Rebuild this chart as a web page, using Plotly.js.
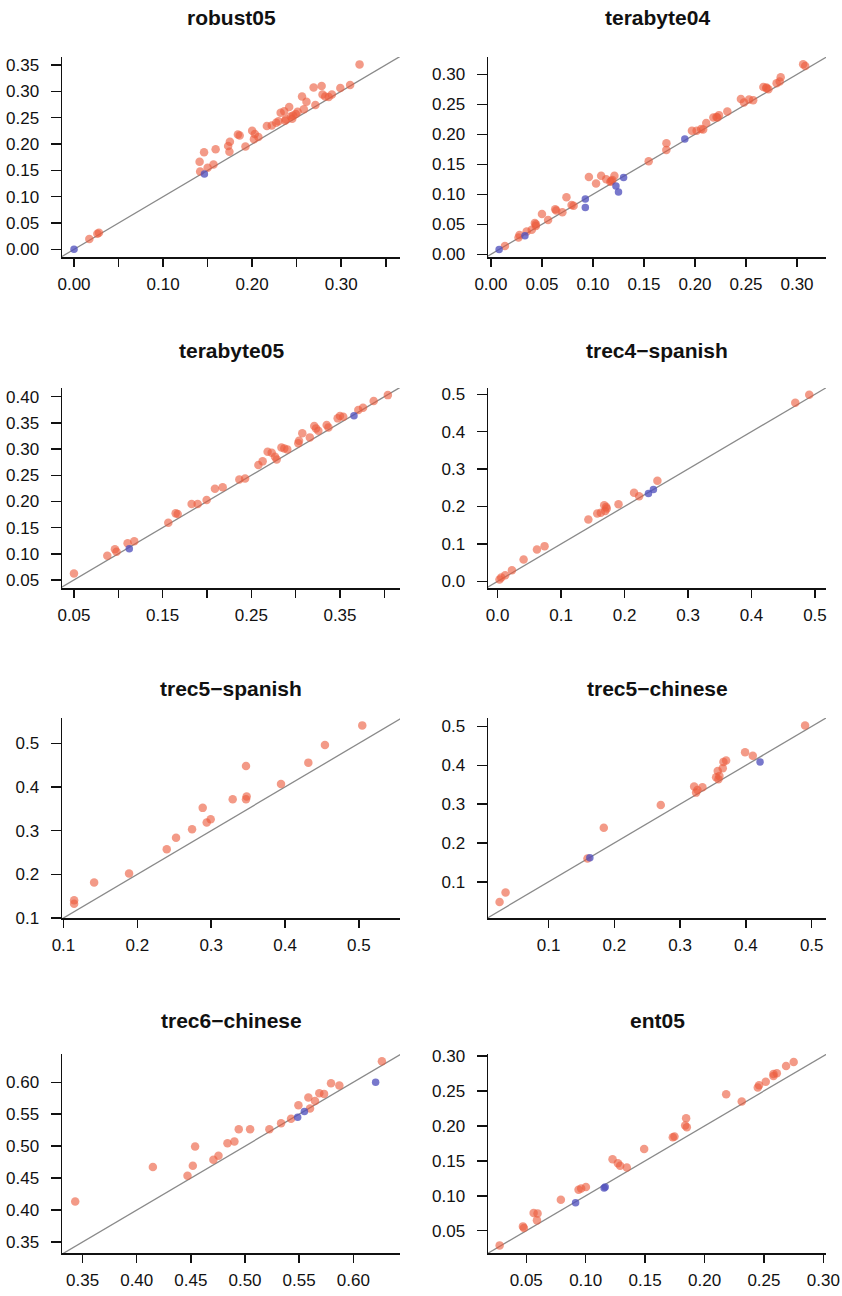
<!DOCTYPE html>
<html>
<head>
<meta charset="utf-8">
<script src="https://cdn.plot.ly/plotly-3.0.1.min.js"></script>
<style>html,body{margin:0;padding:0;background:#fff;}#chart{width:842px;height:1296px;}</style>
</head>
<body>
<div id="chart"></div>
<script>
// ---------- DATA ----------
const titles = ["robust05", "terabyte04", "terabyte05", "trec4\u2212spanish", "trec5\u2212spanish", "trec5\u2212chinese", "trec6\u2212chinese", "ent05"];

const robust05_red_x = [0.0172,0.0262,0.028,0.141,0.146,0.1416,0.1566,0.159,0.173,0.1745,0.175,0.184,0.186,0.1925,0.200,0.202,0.203,0.207,0.2165,0.222,0.227,0.2296,0.232,0.236,0.2416,0.2434,0.246,0.249,0.251,0.256,0.258,0.261,0.269,0.271,0.278,0.279,0.282,0.286,0.2895,0.299,0.310,0.237,0.3206,0.150,0.245,0.238];
const robust05_red_y = [0.0196,0.0297,0.0316,0.166,0.184,0.1475,0.161,0.190,0.196,0.185,0.204,0.218,0.216,0.195,0.225,0.209,0.219,0.213,0.234,0.235,0.240,0.243,0.259,0.262,0.270,0.252,0.254,0.257,0.261,0.290,0.266,0.280,0.307,0.274,0.310,0.294,0.290,0.289,0.294,0.306,0.312,0.244,0.351,0.155,0.248,0.247];
const robust05_blue_x = [0.0, 0.1464];
const robust05_blue_y = [0.0, 0.143];

const terabyte04_red_x = [0.0137,0.027,0.028,0.035,0.040,0.043,0.044,0.050,0.056,0.063,0.064,0.070,0.074,0.079,0.081,0.096,0.103,0.108,0.113,0.117,0.119,0.121,0.1546,0.172,0.1719,0.197,0.2016,0.206,0.208,0.211,0.218,0.221,0.2235,0.2317,0.245,0.248,0.253,0.267,0.270,0.272,0.280,0.284,0.283,0.306,0.308,0.257,0.118,0.044,0.270,0.222];
const terabyte04_red_y = [0.0139,0.028,0.032,0.038,0.041,0.052,0.047,0.067,0.057,0.075,0.073,0.070,0.095,0.082,0.081,0.129,0.118,0.131,0.125,0.121,0.124,0.131,0.155,0.185,0.174,0.206,0.206,0.209,0.208,0.219,0.228,0.229,0.232,0.238,0.259,0.253,0.258,0.279,0.278,0.275,0.285,0.295,0.288,0.317,0.314,0.257,0.122,0.050,0.277,0.228];
const terabyte04_blue_x = [0.008,0.0333,0.0925,0.0925,0.1225,0.125,0.130,0.190];
const terabyte04_blue_y = [0.008,0.031,0.092,0.078,0.114,0.104,0.128,0.192];

const terabyte05_red_x = [0.05,0.0876,0.0962,0.098,0.1105,0.118,0.1564,0.1647,0.167,0.1827,0.1895,0.1996,0.209,0.2177,0.2365,0.243,0.258,0.2628,0.2684,0.273,0.2767,0.2786,0.284,0.2872,0.2906,0.303,0.3038,0.3075,0.316,0.321,0.323,0.3256,0.335,0.337,0.3474,0.35,0.3537,0.376,0.388,0.404,0.3707];
const terabyte05_red_y = [0.0626,0.0964,0.1085,0.104,0.120,0.124,0.1594,0.1772,0.176,0.195,0.195,0.2027,0.2243,0.2269,0.2421,0.244,0.2695,0.2765,0.295,0.293,0.2854,0.2803,0.3032,0.3013,0.2994,0.311,0.316,0.330,0.3223,0.344,0.3395,0.335,0.346,0.3414,0.3586,0.363,0.3618,0.379,0.3917,0.403,0.3745];
const terabyte05_blue_x = [0.1124,0.3658];
const terabyte05_blue_y = [0.1097,0.3637];

const trec4sp_red_x = [0.003,0.0058,0.012,0.0226,0.041,0.062,0.074,0.143,0.157,0.1626,0.168,0.171,0.172,0.1695,0.1905,0.215,0.223,0.2518,0.469,0.491];
const trec4sp_red_y = [0.0045,0.0098,0.016,0.0295,0.058,0.085,0.094,0.165,0.181,0.183,0.2036,0.199,0.1946,0.188,0.206,0.2366,0.2277,0.2687,0.4777,0.4991];
const trec4sp_blue_x = [0.2377,0.2455];
const trec4sp_blue_y = [0.2348,0.2455];

const trec5sp_red_x = [0.1144,0.1144,0.1415,0.1888,0.2398,0.2524,0.2741,0.2885,0.2939,0.2993,0.3291,0.3471,0.3471,0.348,0.3945,0.4315,0.454,0.5045];
const trec5sp_red_y = [0.1404,0.1328,0.1815,0.2021,0.2577,0.2836,0.3034,0.3522,0.3187,0.3263,0.372,0.4482,0.372,0.378,0.407,0.4558,0.4962,0.5411];
const trec5sp_blue_x = [];
const trec5sp_blue_y = [];

const trec5zh_red_x = [0.0256,0.0347,0.1592,0.184,0.2706,0.3213,0.3243,0.3263,0.3339,0.3547,0.3572,0.3582,0.3648,0.3658,0.3699,0.3987,0.4104,0.4899,0.3597];
const trec5zh_red_y = [0.0484,0.0725,0.1602,0.2394,0.2978,0.3452,0.3297,0.3366,0.3434,0.3692,0.3856,0.3641,0.3925,0.4088,0.4123,0.4338,0.4243,0.5026,0.3727];
const trec5zh_blue_x = [0.4215,0.1628];
const trec5zh_blue_y = [0.4088,0.1619];

const trec6zh_red_x = [0.3432,0.4149,0.4469,0.4518,0.4539,0.4708,0.4755,0.4838,0.4902,0.4942,0.5047,0.5225,0.5333,0.5425,0.5493,0.5585,0.56,0.5646,0.5686,0.573,0.5794,0.5871,0.6264];
const trec6zh_red_y = [0.4135,0.4672,0.4536,0.4693,0.4995,0.4786,0.4849,0.5047,0.5073,0.5266,0.5266,0.5266,0.5359,0.5427,0.5641,0.576,0.5589,0.5708,0.5828,0.5818,0.5984,0.5948,0.6328];
const trec6zh_blue_x = [0.6206,0.5486,0.5548];
const trec6zh_blue_y = [0.600,0.5453,0.5542];

const ent05_red_x = [0.0276,0.0472,0.048,0.0562,0.0595,0.059,0.0791,0.094,0.0962,0.1002,0.1226,0.1271,0.129,0.1346,0.1492,0.1733,0.1747,0.1845,0.1837,0.1851,0.2182,0.2313,0.2448,0.2459,0.2515,0.258,0.2608,0.258,0.2686,0.275];
const ent05_red_y = [0.029,0.0562,0.0538,0.0752,0.0748,0.0648,0.0943,0.1086,0.1105,0.1124,0.1524,0.1467,0.1429,0.1405,0.1671,0.1838,0.1848,0.211,0.2005,0.1981,0.2452,0.2348,0.2548,0.2581,0.2633,0.2714,0.2752,0.2743,0.2857,0.2914];
const ent05_blue_x = [0.0915,0.1164,0.1155];
const ent05_blue_y = [0.09,0.1124,0.111];

// tick values and labels
const ticks_p1_x = [0,0.05,0.10,0.15,0.20,0.25,0.30,0.35];
const labels_p1_x = ["0.00","","0.10","","0.20","","0.30",""];
const ticks_p1_y = [0,0.05,0.10,0.15,0.20,0.25,0.30,0.35];
const labels_p1_y = ["0.00","0.05","0.10","0.15","0.20","0.25","0.30","0.35"];
const ticks_p2_x = [0,0.05,0.10,0.15,0.20,0.25,0.30];
const labels_p2_x = ["0.00","0.05","0.10","0.15","0.20","0.25","0.30"];
const ticks_p2_y = [0,0.05,0.10,0.15,0.20,0.25,0.30];
const labels_p2_y = ["0.00","0.05","0.10","0.15","0.20","0.25","0.30"];
const ticks_p3_x = [0.05,0.10,0.15,0.20,0.25,0.30,0.35,0.40];
const labels_p3_x = ["0.05","","0.15","","0.25","","0.35",""];
const ticks_p3_y = [0.05,0.10,0.15,0.20,0.25,0.30,0.35,0.40];
const labels_p3_y = ["0.05","0.10","0.15","0.20","0.25","0.30","0.35","0.40"];
const ticks_p4_x = [0,0.1,0.2,0.3,0.4,0.5];
const labels_p4_x = ["0.0","0.1","0.2","0.3","0.4","0.5"];
const ticks_p4_y = [0,0.1,0.2,0.3,0.4,0.5];
const labels_p4_y = ["0.0","0.1","0.2","0.3","0.4","0.5"];
const ticks_p5_x = [0.1,0.2,0.3,0.4,0.5];
const labels_p5_x = ["0.1","0.2","0.3","0.4","0.5"];
const ticks_p5_y = [0.1,0.2,0.3,0.4,0.5];
const labels_p5_y = ["0.1","0.2","0.3","0.4","0.5"];
const ticks_p6_x = [0.1,0.2,0.3,0.4,0.5];
const labels_p6_x = ["0.1","0.2","0.3","0.4","0.5"];
const ticks_p6_y = [0.1,0.2,0.3,0.4,0.5];
const labels_p6_y = ["0.1","0.2","0.3","0.4","0.5"];
const ticks_p7_x = [0.35,0.40,0.45,0.50,0.55,0.60];
const labels_p7_x = ["0.35","0.40","0.45","0.50","0.55","0.60"];
const ticks_p7_y = [0.35,0.40,0.45,0.50,0.55,0.60];
const labels_p7_y = ["0.35","0.40","0.45","0.50","0.55","0.60"];
const ticks_p8_x = [0.05,0.10,0.15,0.20,0.25,0.30];
const labels_p8_x = ["0.05","0.10","0.15","0.20","0.25","0.30"];
const ticks_p8_y = [0.05,0.10,0.15,0.20,0.25,0.30];
const labels_p8_y = ["0.05","0.10","0.15","0.20","0.25","0.30"];

// ---------- LAYOUT CONFIG (positions / styles) ----------
const W = 842, H = 1296;
const panels = [
  {red:[robust05_red_x,robust05_red_y], blue:[robust05_blue_x,robust05_blue_y], px:[62,400], py:[57,257], xr:[-0.0135,0.366], yr:[-0.0146,0.365], tx:[ticks_p1_x,labels_p1_x], ty:[ticks_p1_y,labels_p1_y], ty0:18},
  {red:[terabyte04_red_x,terabyte04_red_y], blue:[terabyte04_blue_x,terabyte04_blue_y], px:[488,826], py:[57,257], xr:[-0.0029,0.3284], yr:[-0.0045,0.3289], tx:[ticks_p2_x,labels_p2_x], ty:[ticks_p2_y,labels_p2_y], ty0:18},
  {red:[terabyte05_red_x,terabyte05_red_y], blue:[terabyte05_blue_x,terabyte05_blue_y], px:[62,400], py:[388,588], xr:[0.0365,0.4177], yr:[0.0347,0.4166], tx:[ticks_p3_x,labels_p3_x], ty:[ticks_p3_y,labels_p3_y], ty0:350},
  {red:[trec4sp_red_x,trec4sp_red_y], blue:[trec4sp_blue_x,trec4sp_blue_y], px:[488,826], py:[388,588], xr:[-0.0151,0.5174], yr:[-0.018,0.517], tx:[ticks_p4_x,labels_p4_x], ty:[ticks_p4_y,labels_p4_y], ty0:350},
  {red:[trec5sp_red_x,trec5sp_red_y], blue:[trec5sp_blue_x,trec5sp_blue_y], px:[62,400], py:[718,918], xr:[0.098,0.5556], yr:[0.1,0.558], tx:[ticks_p5_x,labels_p5_x], ty:[ticks_p5_y,labels_p5_y], ty0:688},
  {red:[trec5zh_red_x,trec5zh_red_y], blue:[trec5zh_blue_x,trec5zh_blue_y], px:[488,826], py:[718,918], xr:[0.008,0.5217], yr:[0.0071,0.5217], tx:[ticks_p6_x,labels_p6_x], ty:[ticks_p6_y,labels_p6_y], ty0:688},
  {red:[trec6zh_red_x,trec6zh_red_y], blue:[trec6zh_blue_x,trec6zh_blue_y], px:[62,400], py:[1054,1253], xr:[0.331,0.6431], yr:[0.3328,0.6442], tx:[ticks_p7_x,labels_p7_x], ty:[ticks_p7_y,labels_p7_y], ty0:1020},
  {red:[ent05_red_x,ent05_red_y], blue:[ent05_blue_x,ent05_blue_y], px:[488,826], py:[1054,1253], xr:[0.0178,0.3022], yr:[0.0181,0.3029], tx:[ticks_p8_x,labels_p8_x], ty:[ticks_p8_y,labels_p8_y], ty0:1020}
];

const FONT = "Liberation Sans, Arial, Helvetica, sans-serif";
const RED = "rgba(236,92,62,0.62)";
const BLUE = "rgba(82,82,190,0.78)";

const traces = [];
const layout = {
  width: W, height: H,
  margin: {l:0, r:0, t:0, b:0},
  paper_bgcolor: "#fff", plot_bgcolor: "rgba(0,0,0,0)",
  showlegend: false,
  annotations: []
};

panels.forEach((p, i) => {
  const n = i + 1;
  const xa = "x" + (n === 1 ? "" : n), ya = "y" + (n === 1 ? "" : n);
  const xk = "xaxis" + (n === 1 ? "" : n), yk = "yaxis" + (n === 1 ? "" : n);
  const lo = Math.min(p.xr[0], p.yr[0]), hi = Math.max(p.xr[1], p.yr[1]);
  traces.push({x:[lo,hi], y:[lo,hi], xaxis:xa, yaxis:ya, mode:"lines", line:{color:"#8a8a8a", width:1.3}, hoverinfo:"skip"});
  traces.push({x:p.red[0], y:p.red[1], xaxis:xa, yaxis:ya, mode:"markers", marker:{color:RED, size:8.5, line:{width:0}}, cliponaxis:false});
  traces.push({x:p.blue[0], y:p.blue[1], xaxis:xa, yaxis:ya, mode:"markers", marker:{color:BLUE, size:7.5, line:{width:0}}, cliponaxis:false});
  layout[xk] = {
    domain:[p.px[0]/W, p.px[1]/W], anchor:ya, range:p.xr, showgrid:false, zeroline:false,
    showline:true, linecolor:"#111", linewidth:1.5, ticks:"outside", ticklen:8, tickwidth:1.5, tickcolor:"#111",
    tickmode:"array", tickvals:p.tx[0], ticktext:p.tx[1], tickfont:{family:FONT, size:17, color:"#111"}, ticklabelstandoff:3
  };
  layout[yk] = {
    domain:[1 - p.py[1]/H, 1 - p.py[0]/H], anchor:xa, range:p.yr, showgrid:false, zeroline:false,
    showline:true, linecolor:"#111", linewidth:1.5, ticks:"outside", ticklen:10, tickwidth:1.5, tickcolor:"#111",
    tickmode:"array", tickvals:p.ty[0], ticktext:p.ty[1], tickfont:{family:FONT, size:17, color:"#111"}, ticklabelstandoff:8
  };
  layout.annotations.push({
    text:"<b>" + titles[i] + "</b>", xref:"paper", yref:"paper",
    x:(p.px[0] + p.px[1]) / 2 / W, y:1 - p.ty0 / H, xanchor:"center", yanchor:"middle",
    showarrow:false, font:{family:FONT, size:21, color:"#111"}
  });
});

Plotly.newPlot("chart", traces, layout, {staticPlot:true, displayModeBar:false});
</script>
</body>
</html>
